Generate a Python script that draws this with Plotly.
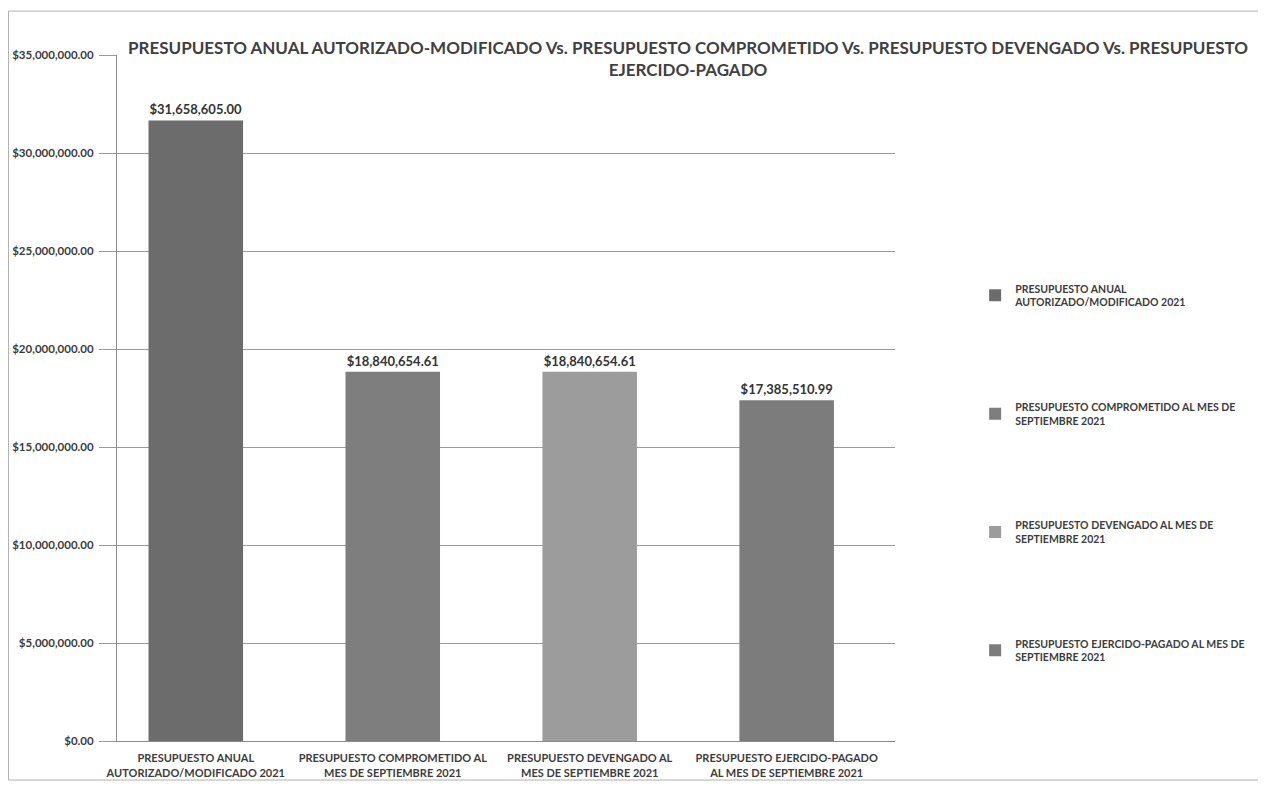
import plotly.graph_objects as go

categories = [
    "PRESUPUESTO ANUAL<br>AUTORIZADO/MODIFICADO 2021",
    "PRESUPUESTO COMPROMETIDO AL<br>MES DE SEPTIEMBRE 2021",
    "PRESUPUESTO DEVENGADO AL<br>MES DE SEPTIEMBRE 2021",
    "PRESUPUESTO EJERCIDO-PAGADO<br>AL MES DE SEPTIEMBRE 2021",
]
legend_names = [
    "PRESUPUESTO ANUAL<br>AUTORIZADO/MODIFICADO 2021",
    "PRESUPUESTO COMPROMETIDO AL MES DE<br>SEPTIEMBRE 2021",
    "PRESUPUESTO DEVENGADO AL MES DE<br>SEPTIEMBRE 2021",
    "PRESUPUESTO EJERCIDO-PAGADO AL MES DE<br>SEPTIEMBRE 2021",
]
values = [31658605.00, 18840654.61, 18840654.61, 17385510.99]
colors = ["#6c6c6c", "#7e7e7e", "#9c9c9c", "#7c7c7c"]

title_text = ("PRESUPUESTO ANUAL AUTORIZADO-MODIFICADO Vs. PRESUPUESTO COMPROMETIDO Vs. "
              "PRESUPUESTO DEVENGADO Vs. PRESUPUESTO<br>EJERCIDO-PAGADO")

FONT = "Lato"
fig = go.Figure()
for i in range(len(values)):
    fig.add_trace(go.Bar(
        x=[categories[i]], y=[values[i]], name=legend_names[i],
        marker=dict(color=colors[i], line=dict(width=0)),
        width=0.48,
        texttemplate="$%{y:,.2f}", textposition="outside",
        textfont=dict(family=FONT, size=13, color="#333333", weight="bold"),
        cliponaxis=False,
        legendgroup="g%d" % i,
    ))

fig.update_layout(
    width=1250, height=773,
    margin=dict(l=109, r=363, t=47, b=40, autoexpand=False),
    paper_bgcolor="white", plot_bgcolor="white",
    barmode="overlay",
    font=dict(family=FONT, color="#3c3c3c"),
    title=dict(text=title_text, x=0.544, xanchor="center", y=0.940, yanchor="top",
               font=dict(family=FONT, size=17, color="#404040", weight="bold")),
    legend=dict(x=1.103, y=0.679, xanchor="left", yanchor="top",
                traceorder="grouped", tracegroupgap=88,
                font=dict(family=FONT, size=10.5, color="#3c3c3c", weight="bold"),
                itemwidth=30, bgcolor="rgba(0,0,0,0)"),
    xaxis=dict(range=[-0.4, 3.55], showline=True, linecolor="#8a8a8a", linewidth=1,
               tickangle=0, automargin=False, ticklabelstandoff=7,
               tickfont=dict(family=FONT, size=11, color="#3c3c3c", weight="bold"),
               showgrid=False),
    yaxis=dict(range=[0, 35000000], dtick=5000000, tickformat="$,.2f",
               showgrid=True, gridcolor="#9a9a9a", gridwidth=1,
               showline=True, linecolor="#8a8a8a", linewidth=1,
               ticks="outside", ticklen=17, tickcolor="#9a9a9a",
               ticklabelstandoff=3, automargin=False,
               tickfont=dict(family=FONT, size=11.5, color="#3c3c3c", weight="bold"),
               zeroline=False),
    shapes=[dict(type="rect", xref="paper", yref="paper",
                 x0=-0.1395, x1=1.6, y0=-0.0569, y1=1.064,
                 line=dict(color="#b0b0b0", width=1), fillcolor="rgba(0,0,0,0)",
                 layer="below")],
)

fig.write_html("out.html")
